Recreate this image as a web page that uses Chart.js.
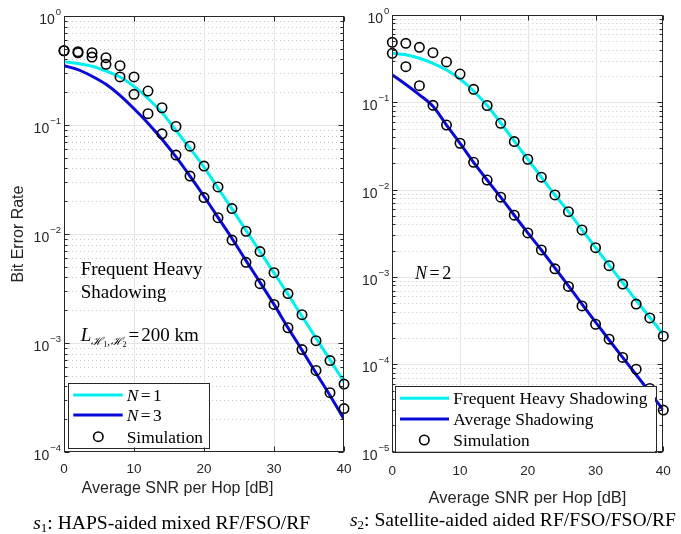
<!DOCTYPE html>
<html>
<head>
<meta charset="utf-8">
<script src="https://cdn.jsdelivr.net/npm/chart.js@4.4.0/dist/chart.umd.min.js"></script>
<style>
  html, body { margin: 0; padding: 0; background: #fff; }
  #wrap { position: relative; width: 681px; height: 534px; overflow: hidden; }
  canvas { position: absolute; top: 0; }
</style>
</head>
<body>
<div id="wrap">
  <canvas id="chartL" width="356" height="534" style="left:0"></canvas>
  <canvas id="chartR" width="341" height="534" style="left:340px"></canvas>
</div>
<script>
// ---- data ----
const snr = [0, 2, 4, 6, 8, 10, 12, 14, 16, 18, 20, 22, 24, 26, 28, 30, 32, 34, 36, 38, 40];
const xTicks = [0, 10, 20, 30, 40];

// s1: HAPS-aided mixed RF/FSO/RF
const hapsN1 = [0.38, 0.366, 0.346, 0.313, 0.276, 0.226, 0.175, 0.13, 0.089, 0.061, 0.041,
  0.0264, 0.017, 0.0108, 0.0069, 0.0044, 0.0028, 0.00176, 0.00111, 0.0007, 0.00044];
const hapsN3 = [0.35, 0.322, 0.28, 0.236, 0.187, 0.141, 0.104, 0.074, 0.051, 0.034, 0.0222,
  0.0142, 0.0091, 0.0057, 0.0036, 0.00226, 0.00138, 0.00086, 0.00053, 0.00033, 0.0002];
const hapsSimN1 = [0.48, 0.47, 0.46, 0.415, 0.35, 0.276, 0.205, 0.144, 0.097, 0.064, 0.042,
  0.027, 0.0171, 0.0106, 0.0069, 0.00442, 0.00284, 0.00182, 0.00105, 0.00069, 0.00042];
const hapsSimN3 = [0.48, 0.46, 0.42, 0.36, 0.276, 0.191, 0.127, 0.083, 0.053, 0.034, 0.0216,
  0.0141, 0.0088, 0.0055, 0.0035, 0.00226, 0.00138, 0.00087, 0.00056, 0.00035, 0.00025];

// s2: Satellite-aided RF/FSO/FSO/RF, N=2
const satFreqHeavy = [0.364, 0.35, 0.32, 0.28, 0.235, 0.185, 0.135, 0.092, 0.058, 0.036, 0.0223,
  0.0139, 0.0087, 0.0056, 0.00346, 0.00217, 0.00137, 0.00086, 0.00054, 0.000345, 0.00022];
const satAverage = [0.206, 0.16, 0.122, 0.09, 0.055, 0.034, 0.0206, 0.0129, 0.0082, 0.0051, 0.0032,
  0.00204, 0.00127, 0.00079, 0.00049, 0.000305, 0.00019, 0.00012, 0.000076, 0.000048, 0.00003];
const satSimFreqHeavy = [0.486, 0.474, 0.427, 0.37, 0.29, 0.211, 0.141, 0.092, 0.0576, 0.0355, 0.0223,
  0.0139, 0.0087, 0.0056, 0.00346, 0.00217, 0.00135, 0.00083, 0.00049, 0.00034, 0.00021];
const satSimAverage = [0.364, 0.256, 0.155, 0.0925, 0.055, 0.034, 0.0206, 0.0129, 0.0082, 0.0051, 0.0032,
  0.00204, 0.00124, 0.00078, 0.000467, 0.000288, 0.000194, 0.00012, 0.000088, 0.000053, 0.00003];

const CYAN = '#00f0f0';
const BLUE = '#0a0ad8';
const AXIS = '#262626';
const SANS = '"Liberation Sans", Arial, sans-serif';
const SERIF = '"Liberation Serif", "Times New Roman", serif';

function pts(ys) {
  return snr.map((x, i) => ({ x: x, y: ys[i] }));
}
function curve(ys, color) {
  return { data: pts(ys), borderColor: color, borderWidth: 3, pointRadius: 0,
    cubicInterpolationMode: 'monotone', order: 2 };
}
function sims(ys) {
  return { data: pts(ys), showLine: false, pointRadius: 4.7, pointBorderWidth: 1.6,
    pointBorderColor: '#000', pointBackgroundColor: 'rgba(0,0,0,0)', clip: false, order: 1 };
}

// rich text: parts = [{t, size, it, dy, gap}]
function rich(ctx, parts, x, base, align) {
  let w = 0;
  parts.forEach(p => {
    ctx.font = (p.it ? 'italic ' : '') + p.size + 'px ' + (p.fam || SERIF);
    p.w = ctx.measureText(p.t).width;
    w += (p.gap || 0) + p.w;
  });
  let cx = align === 'center' ? x - w / 2 : x;
  parts.forEach(p => {
    cx += p.gap || 0;
    ctx.font = (p.it ? 'italic ' : '') + p.size + 'px ' + (p.fam || SERIF);
    ctx.fillText(p.t, cx, base + (p.dy || 0));
    cx += p.w;
  });
}

function seg(ctx, x1, y1, x2, y2) {
  ctx.beginPath(); ctx.moveTo(x1, y1); ctx.lineTo(x2, y2); ctx.stroke();
}

// matlab-like axes, grid, legend and notes
function axesPlugin(cfg) {
  return {
    id: 'matlabAxes',
    beforeDatasetsDraw(chart) {
      const { ctx, chartArea: a, scales: { x, y } } = chart;
      ctx.save();
      ctx.lineWidth = 1;
      ctx.strokeStyle = '#c8c8c8';
      ctx.setLineDash([1, 3]);
      for (let e = cfg.minExp; e < 0; e++) {
        for (let m = 2; m <= 9; m++) {
          const py = Math.round(y.getPixelForValue(m * Math.pow(10, e))) + 0.5;
          seg(ctx, a.left, py, a.right, py);
        }
      }
      ctx.setLineDash([]);
      ctx.strokeStyle = '#e4e4e4';
      for (let e = cfg.minExp + 1; e < 0; e++) {
        const py = Math.round(y.getPixelForValue(Math.pow(10, e))) + 0.5;
        seg(ctx, a.left, py, a.right, py);
      }
      xTicks.slice(1, -1).forEach(v => {
        const px = Math.round(x.getPixelForValue(v)) + 0.5;
        seg(ctx, px, a.top, px, a.bottom);
      });
      ctx.restore();
    },
    afterDraw(chart) {
      const { ctx, chartArea: a, scales: { x, y } } = chart;
      const ox = cfg.ox;
      ctx.save();
      ctx.strokeStyle = AXIS;
      ctx.fillStyle = AXIS;
      ctx.lineWidth = 1;
      const L = Math.round(a.left) + 0.5, R = Math.round(a.right) - 0.5;
      const T = Math.round(a.top) + 0.5, B = Math.round(a.bottom) - 0.5;
      ctx.strokeRect(L, T, R - L, B - T);
      // y ticks
      for (let e = cfg.minExp; e <= 0; e++) {
        const py = Math.round(y.getPixelForValue(Math.pow(10, e))) + 0.5;
        seg(ctx, L, py, L + 5, py); seg(ctx, R, py, R - 5, py);
        if (e < 0) {
          for (let m = 2; m <= 9; m++) {
            const my = Math.round(y.getPixelForValue(m * Math.pow(10, e))) + 0.5;
            seg(ctx, L, my, L + 3, my); seg(ctx, R, my, R - 3, my);
          }
        }
        // label 10^e
        const ex = String(e).replace('-', '\u2212');
        ctx.font = '9.5px ' + SANS;
        const we = ctx.measureText(ex).width;
        ctx.textBaseline = 'middle';
        ctx.textAlign = 'left';
        ctx.fillText(ex, a.left - 3 - we, py - 4);
        ctx.font = '14px ' + SANS;
        ctx.textAlign = 'right';
        ctx.fillText('10', a.left - 4 - we, py + 4);
      }
      // x ticks
      ctx.textAlign = 'center';
      ctx.textBaseline = 'alphabetic';
      ctx.font = '13.5px ' + SANS;
      xTicks.forEach(v => {
        const px = Math.round(x.getPixelForValue(v)) + 0.5;
        seg(ctx, px, B, px, B - 5); seg(ctx, px, T, px, T + 5);
        ctx.fillText(String(v), x.getPixelForValue(v), cfg.xTickBase);
      });
      // axis titles
      ctx.font = cfg.xTitle.size + 'px ' + SANS;
      ctx.fillText(cfg.xTitle.text, cfg.xTitle.x - ox, cfg.xTitle.base);
      if (cfg.yTitle) {
        ctx.save();
        ctx.translate(cfg.yTitle.x - ox, cfg.yTitle.y);
        ctx.rotate(-Math.PI / 2);
        ctx.textBaseline = 'middle';
        ctx.font = '16px ' + SANS;
        ctx.fillText(cfg.yTitle.text, 0, 0);
        ctx.restore();
      }
      // notes inside the plot
      ctx.fillStyle = '#000';
      ctx.textAlign = 'left';
      cfg.notes.forEach(n => rich(ctx, n.parts, n.x - ox, n.base, 'left'));
      // legend
      const lg = cfg.legend;
      ctx.fillStyle = '#fff';
      ctx.fillRect(lg.x - ox, lg.y, lg.w, lg.h);
      ctx.strokeStyle = AXIS;
      ctx.lineWidth = 1;
      ctx.strokeRect(Math.round(lg.x - ox) + 0.5, Math.round(lg.y) + 0.5, Math.round(lg.w), Math.round(lg.h));
      lg.items.forEach(it => {
        const ds = chart.data.datasets[it.ds];
        if (ds.showLine === false) {
          ctx.beginPath();
          ctx.arc(lg.markX - ox, it.y, ds.pointRadius, 0, Math.PI * 2);
          ctx.strokeStyle = ds.pointBorderColor;
          ctx.lineWidth = ds.pointBorderWidth;
          ctx.stroke();
        } else {
          ctx.strokeStyle = ds.borderColor;
          ctx.lineWidth = ds.borderWidth;
          seg(ctx, lg.x0 - ox, it.y, lg.x1 - ox, it.y);
        }
        ctx.fillStyle = '#000';
        rich(ctx, it.parts, lg.textX - ox, it.y + 5.8, 'left');
      });
      // caption under the panel
      rich(ctx, cfg.caption.parts, cfg.caption.x - ox, cfg.caption.base, 'center');
      ctx.restore();
    }
  };
}

function makeChart(id, datasets, minY, padding, cfg) {
  return new Chart(document.getElementById(id), {
    type: 'line',
    data: { datasets: datasets },
    options: {
      responsive: false,
      animation: false,
      devicePixelRatio: 1,
      layout: { padding: padding },
      plugins: { legend: { display: false }, tooltip: { enabled: false } },
      scales: {
        x: { type: 'linear', min: 0, max: 40, display: false },
        y: { type: 'logarithmic', min: minY, max: 1, display: false }
      }
    },
    plugins: [axesPlugin(cfg)]
  });
}

const LG = 17.4;
const NOTE = 19;
const CAP = 19.6;

makeChart('chartL', [
  curve(hapsN1, CYAN),
  curve(hapsN3, BLUE),
  sims(hapsSimN1),
  sims(hapsSimN3)
], 1e-4, { left: 64, right: 12, top: 16, bottom: 82 }, {
  ox: 0, minExp: -4, xTickBase: 473.2,
  xTitle: { text: 'Average SNR per Hop [dB]', x: 177.5, base: 492.5, size: 16 },
  yTitle: { text: 'Bit Error Rate', x: 18.5, y: 234 },
  notes: [
    { x: 80.7, base: 274.6, parts: [{ t: 'Frequent Heavy', size: NOTE }] },
    { x: 80.7, base: 298, parts: [{ t: 'Shadowing', size: NOTE }] },
    { x: 80.7, base: 341.3, parts: [
      { t: 'L', size: NOTE, it: true },
      { t: '\u210B', size: 11, it: true, dy: 4 },
      { t: '1', size: 8, dy: 5.5 },
      { t: ',', size: 11, dy: 4 },
      { t: '\u210B', size: 11, it: true, dy: 4, gap: 0.5 },
      { t: '2', size: 8, dy: 5.5 },
      { t: '=', size: NOTE, gap: 2 },
      { t: '200 km', size: NOTE, gap: 2 }
    ] }
  ],
  legend: { x: 67.5, y: 382.5, w: 141, h: 65, x0: 73.3, x1: 122.7, markX: 98.3, textX: 126.7,
    items: [
      { ds: 0, y: 395, parts: [{ t: 'N', size: LG, it: true }, { t: '=', size: LG, gap: 2.5 }, { t: '1', size: LG, gap: 2.5 }] },
      { ds: 1, y: 415, parts: [{ t: 'N', size: LG, it: true }, { t: '=', size: LG, gap: 2.5 }, { t: '3', size: LG, gap: 2.5 }] },
      { ds: 2, y: 436.7, parts: [{ t: 'Simulation', size: LG }] }
    ] },
  caption: { x: 171.7, base: 529, parts: [
    { t: 's', size: CAP, it: true }, { t: '1', size: 13, dy: 3 },
    { t: ': HAPS-aided mixed RF/FSO/RF', size: CAP }
  ] }
});

makeChart('chartR', [
  curve(satFreqHeavy, CYAN),
  curve(satAverage, BLUE),
  sims(satSimFreqHeavy),
  sims(satSimAverage)
], 1e-5, { left: 52.3, right: 17.7, top: 15, bottom: 82.3 }, {
  ox: 340, minExp: -5, xTickBase: 474.9,
  xTitle: { text: 'Average SNR per Hop [dB]', x: 527.5, base: 502.5, size: 16.5 },
  notes: [
    { x: 415, base: 278.6, parts: [{ t: 'N', size: 18, it: true }, { t: '=', size: 18, gap: 2.5 }, { t: '2', size: 18, gap: 2.5 }] }
  ],
  legend: { x: 394.5, y: 386, w: 260.5, h: 65.7, x0: 400, x1: 449, markX: 424.3, textX: 453.3,
    items: [
      { ds: 0, y: 398.3, parts: [{ t: 'Frequent Heavy Shadowing', size: LG }] },
      { ds: 1, y: 419, parts: [{ t: 'Average Shadowing', size: LG }] },
      { ds: 2, y: 440, parts: [{ t: 'Simulation', size: LG }] }
    ] },
  caption: { x: 513, base: 526, parts: [
    { t: 's', size: CAP, it: true }, { t: '2', size: 13, dy: 3 },
    { t: ': Satellite-aided aided RF/FSO/FSO/RF', size: CAP }
  ] }
});
</script>
</body>
</html>
